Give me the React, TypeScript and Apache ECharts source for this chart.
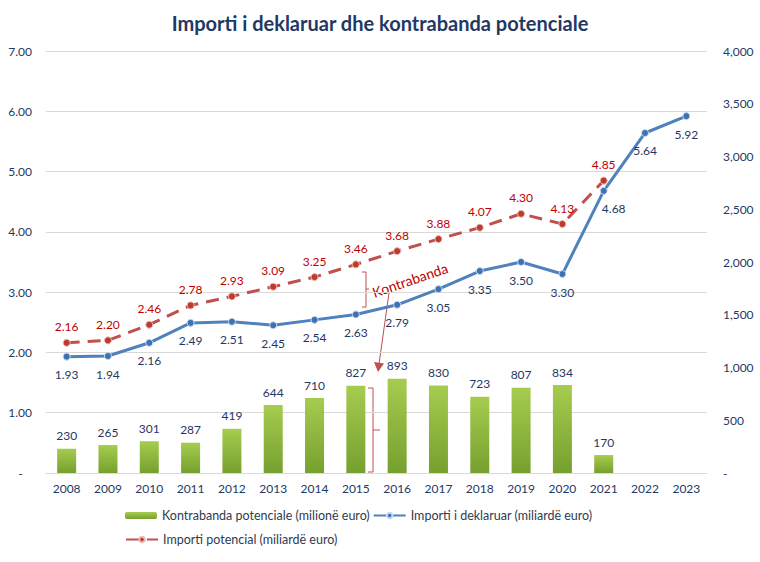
import React, { useEffect, useRef } from "react";
import * as echarts from "echarts";

const years = ["2008","2009","2010","2011","2012","2013","2014","2015","2016","2017","2018","2019","2020","2021","2022","2023"];
const kontrabanda: (number | null)[] = [230, 265, 301, 287, 419, 644, 710, 827, 893, 830, 723, 807, 834, 170, null, null];
const importiDeklaruar = [1.93, 1.94, 2.16, 2.49, 2.51, 2.45, 2.54, 2.63, 2.79, 3.05, 3.35, 3.5, 3.3, 4.68, 5.64, 5.92];
const importiPotencial: (number | null)[] = [2.16, 2.2, 2.46, 2.78, 2.93, 3.09, 3.25, 3.46, 3.68, 3.88, 4.07, 4.3, 4.13, 4.85, null, null];

const FONT = "Lato, 'Liberation Sans', sans-serif";
const NAVY = "#1F3864";

export default function App() {
  const ref = useRef<HTMLDivElement>(null);
  useEffect(() => {
    if (!ref.current) return;
    const chart = echarts.init(ref.current, null, { renderer: "svg" });
    const blueData = importiDeklaruar.map((v, i) => {
      if (years[i] === "2021") return { value: v, label: { offset: [10, 0] } };
      return v;
    });
    chart.setOption({
      animation: false,
      backgroundColor: "#ffffff",
      textStyle: { fontFamily: FONT },
      title: {
        text: "Importi i deklaruar dhe kontrabanda potenciale",
        left: "center",
        top: 8,
        textStyle: { fontFamily: FONT, fontSize: 20, fontWeight: "bold", color: NAVY },
      },
      grid: { left: 46, right: 53, top: 51, bottom: 89 },
      legend: [
        {
          data: ["Kontrabanda potenciale (milionë euro)", "Importi i deklaruar (miliardë euro)"],
          left: 120,
          top: 504,
          itemGap: 3,
          itemWidth: 32,
          itemHeight: 7,
          textStyle: { fontFamily: FONT, fontSize: 12.5, color: "#2F3B52" },
        },
        {
          data: ["Importi potencial (miliardë euro)"],
          left: 120,
          top: 528,
          itemGap: 3,
          itemWidth: 32,
          itemHeight: 7,
          textStyle: { fontFamily: FONT, fontSize: 12.5, color: "#2F3B52" },
        },
      ],
      xAxis: {
        type: "category",
        data: years,
        axisLine: { lineStyle: { color: "#D9D9D9" } },
        axisTick: { show: false },
        axisLabel: { color: NAVY, fontSize: 12, fontFamily: FONT, margin: 9 },
      },
      yAxis: [
        {
          type: "value",
          min: 0,
          max: 7,
          interval: 1,
          axisLine: { show: false },
          axisTick: { show: false },
          splitLine: { lineStyle: { color: "#D9D9D9" } },
          axisLabel: {
            color: NAVY,
            fontSize: 12,
            fontFamily: FONT,
            margin: 14,
            formatter: (v: number) => (v === 0 ? "-   " : v.toFixed(2)),
          },
        },
        {
          type: "value",
          position: "right",
          min: 0,
          max: 4000,
          interval: 500,
          axisLine: { show: false },
          axisTick: { show: false },
          splitLine: { show: false },
          axisLabel: {
            color: NAVY,
            fontSize: 12,
            fontFamily: FONT,
            margin: 16,
            formatter: (v: number) => (v === 0 ? "-" : v.toLocaleString("en-US")),
          },
        },
      ],
      series: [
        {
          name: "Kontrabanda potenciale (milionë euro)",
          type: "bar",
          yAxisIndex: 1,
          data: kontrabanda,
          barWidth: 19,
          itemStyle: {
            color: new echarts.graphic.LinearGradient(0, 0, 0, 1, [
              { offset: 0, color: "#A6CC4F" },
              { offset: 1, color: "#76A02F" },
            ]),
          },
          label: {
            show: true,
            position: "top",
            distance: 7,
            color: NAVY,
            fontSize: 12,
            fontFamily: FONT,
          },
          z: 1,
        },
        {
          name: "Importi i deklaruar (miliardë euro)",
          type: "line",
          yAxisIndex: 0,
          data: blueData,
          symbol: "circle",
          symbolSize: 7,
          lineStyle: { color: "#4F81BD", width: 3 },
          itemStyle: { color: "#3F72B5", borderColor: "#C9D9EE", borderWidth: 1 },
          label: {
            show: true,
            position: "bottom",
            distance: 8,
            color: NAVY,
            fontSize: 12,
            fontFamily: FONT,
            formatter: (p: any) => Number(p.value).toFixed(2),
          },
          z: 3,
        },
        {
          name: "Importi potencial (miliardë euro)",
          type: "line",
          yAxisIndex: 0,
          data: importiPotencial,
          symbol: "circle",
          symbolSize: 7,
          lineStyle: { color: "#C0504D", width: 3, type: [13, 8] },
          itemStyle: { color: "#C0392B", borderColor: "#E8B9B8", borderWidth: 1 },
          label: {
            show: true,
            position: "top",
            distance: 6,
            color: "#C00000",
            fontSize: 12,
            fontFamily: FONT,
            formatter: (p: any) => Number(p.value).toFixed(2),
          },
          z: 2,
        },
      ],
      graphic: [
        {
          type: "text",
          x: 410,
          y: 280,
          rotation: 0.33,
          style: {
            text: "Kontrabanda",
            fill: "#C00000",
            font: "14px Lato, sans-serif",
            align: "center",
            verticalAlign: "middle",
          },
        },
        {
          type: "polyline",
          shape: { points: [[362, 272], [366, 272], [366, 307], [362, 307]] },
          style: { stroke: "#C0504D", lineWidth: 1, fill: null },
        },
        {
          type: "line",
          shape: { x1: 366, y1: 289, x2: 369, y2: 289 },
          style: { stroke: "#C0504D", lineWidth: 1 },
        },
        {
          type: "polyline",
          shape: { points: [[368, 388], [373, 388], [373, 472], [368, 472]] },
          style: { stroke: "#C0504D", lineWidth: 1, fill: null },
        },
        {
          type: "line",
          shape: { x1: 373, y1: 430, x2: 380, y2: 430 },
          style: { stroke: "#C0504D", lineWidth: 1 },
        },
        {
          type: "line",
          shape: { x1: 389, y1: 293, x2: 379, y2: 364 },
          style: { stroke: "#C0504D", lineWidth: 1 },
        },
        {
          type: "polygon",
          shape: { points: [[374, 362], [384, 363.5], [378, 372]] },
          style: { fill: "#C0504D" },
        },
      ],
    });
    return () => chart.dispose();
  }, []);
  return (
    <div
      ref={ref}
      style={{ position: "fixed", left: 0, top: 0, width: 760, height: 562 }}
    />
  );
}
